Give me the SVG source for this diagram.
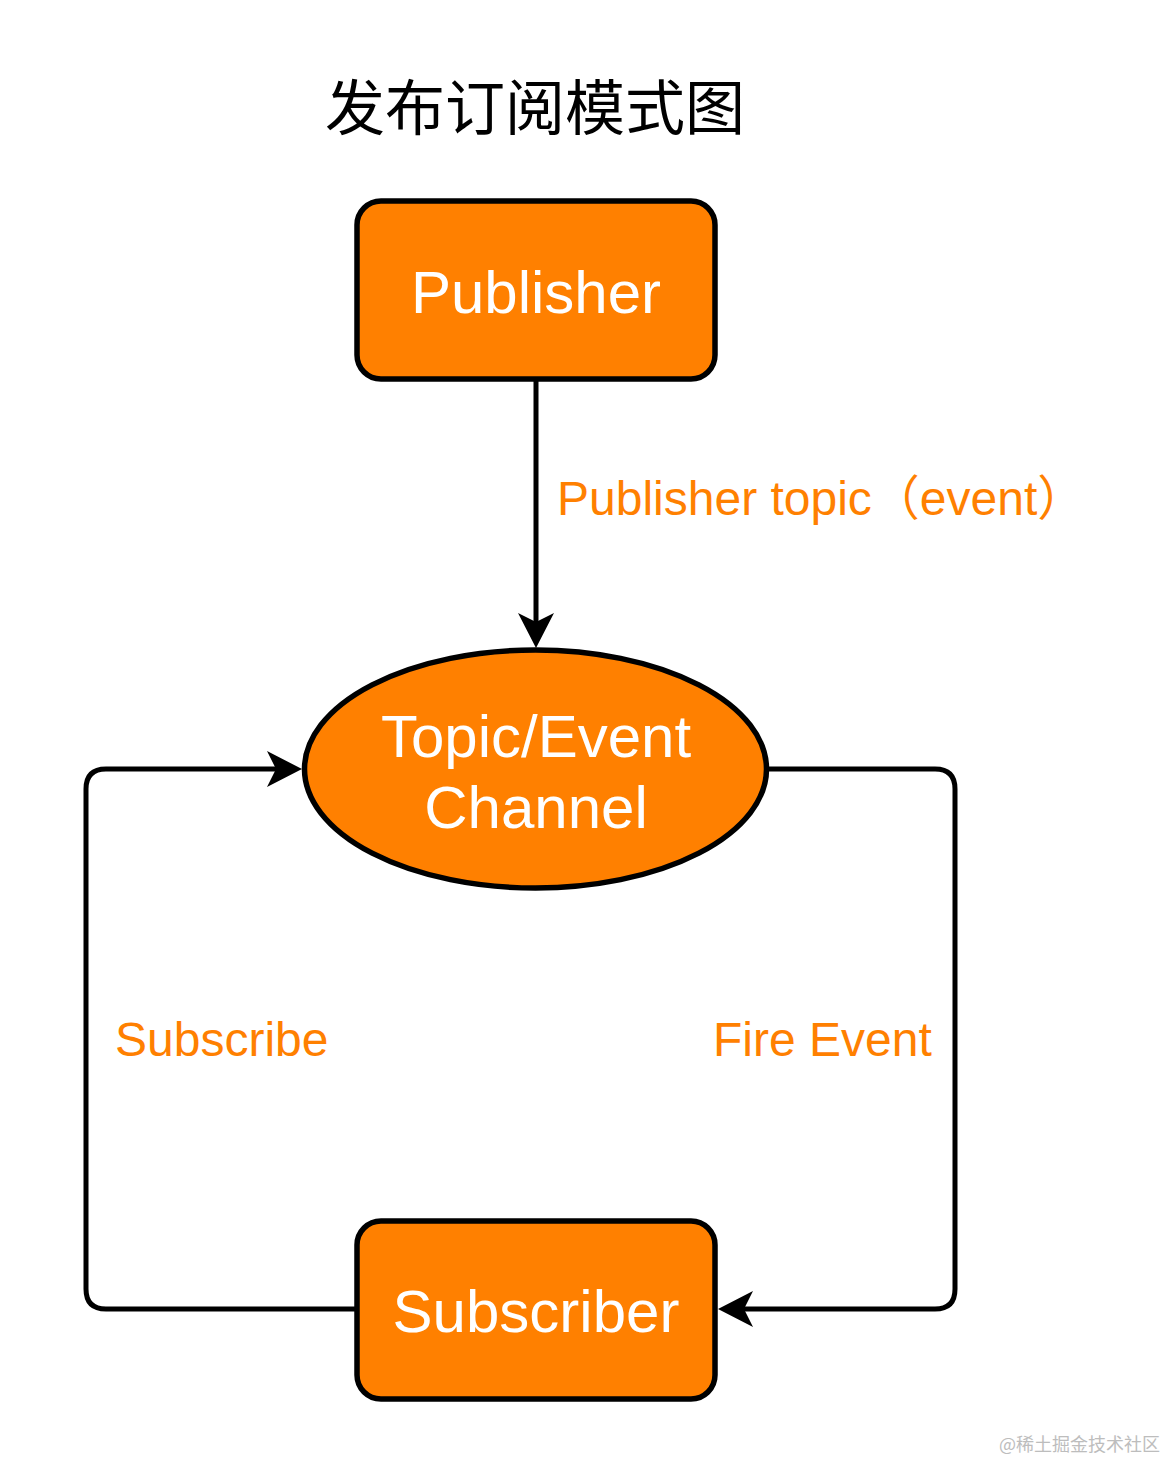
<svg xmlns="http://www.w3.org/2000/svg" width="1167" height="1461" viewBox="0 0 1167 1461">
<style>
.node{fill:#FF8000;stroke:#000;stroke-width:5.5}
.nt{fill:#fff;font-family:"Liberation Sans",Arial,sans-serif;font-size:60px;text-anchor:middle}
.lbl{fill:#FF8000;font-family:"Liberation Sans",Arial,"Noto Sans CJK SC",sans-serif;font-size:48px}
.edge{fill:none;stroke:#000;stroke-width:5}
.ah{fill:#000;stroke:none}
</style>
<rect width="1167" height="1461" fill="#fff"/>
<text x="535" y="130" font-family="'Noto Sans CJK SC',sans-serif" font-size="60" text-anchor="middle" fill="#000">发布订阅模式图</text>
<g id="connectors">
<path class="edge" d="M536,380 L536,637" />
<path class="ah" d="M536,648 L518,613 L536,622 L554,613 Z"/>
<path class="edge" d="M355,1309 L106,1309 Q86,1309 86,1289 L86,789 Q86,769 106,769 L292,769"/>
<path class="ah" d="M302,769 L267,751 L276,769 L267,787 Z"/>
<path class="edge" d="M769,769 L935,769 Q955,769 955,789 L955,1289 Q955,1309 935,1309 L728,1309"/>
<path class="ah" d="M718,1309 L753,1291 L744,1309 L753,1327 Z"/>
</g>
<g id="label-publish"><text class="lbl" x="557" y="515">Publisher topic（event）</text></g>
<g id="label-subscribe"><text class="lbl" x="115" y="1056">Subscribe</text></g>
<g id="label-fire"><text class="lbl" x="713" y="1056">Fire Event</text></g>
<g id="publisher">
<rect class="node" x="357" y="201" width="358" height="178" rx="24"/>
<text class="nt" x="536" y="313">Publisher</text>
</g>
<g id="channel">
<ellipse class="node" cx="535.5" cy="769" rx="231" ry="119"/>
<text class="nt" x="536" y="757">Topic/Event</text>
<text class="nt" x="536" y="828">Channel</text>
</g>
<g id="subscriber">
<rect class="node" x="357" y="1221" width="358" height="178" rx="24"/>
<text class="nt" x="536" y="1332">Subscriber</text>
</g>
<text x="1160" y="1451" font-family="'Noto Sans CJK SC',sans-serif" font-size="18" text-anchor="end" fill="#bdbdbd">@稀土掘金技术社区</text>
</svg>
